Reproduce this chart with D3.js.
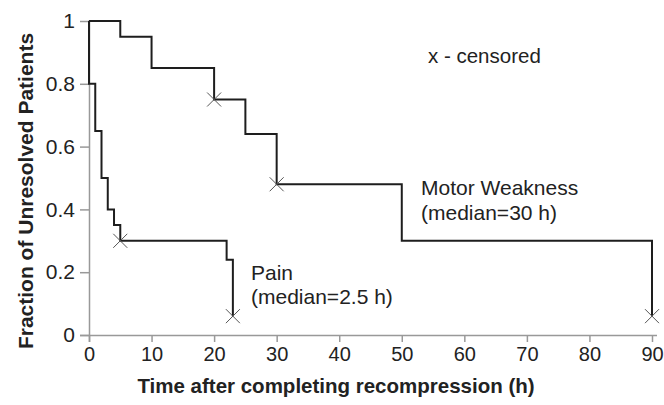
<!DOCTYPE html>
<html lang="en">
<head>
<meta charset="utf-8">
<style>
  body { margin: 0; background: #fff; }
  text { font-family: "Liberation Sans", Arial, sans-serif; fill: #222; }
</style>
</head>
<body>
<div id="viz"></div>
<script src="https://cdnjs.cloudflare.com/ajax/libs/d3/7.8.5/d3.min.js"></script>
<script>

// step curves: [time (h), fraction]
var painSteps = [[0,1],[0,0.8],[1,0.65],[2,0.5],[3,0.4],[4,0.35],[5,0.3],[22,0.24],[23,0.06]];
var painEnd = 23;
var painCensored = [[5,0.3],[23,0.06]];

var motorSteps = [[0,1],[5,0.95],[10,0.85],[20,0.75],[25,0.64],[30,0.48],[50,0.3],[90,0.06]];
var motorEnd = 90;
var motorCensored = [[20,0.75],[30,0.48],[90,0.06]];

var xTicks = [0,10,20,30,40,50,60,70,80,90];
var yTicks = [0,0.2,0.4,0.6,0.8,1];
var yTickLabels = ["0","0.2","0.4","0.6","0.8","1"];

var w = 664, h = 405;
var x = d3.scaleLinear().domain([0,90]).range([89,652]);
var y = d3.scaleLinear().domain([0,1]).range([335,21]);

var svg = d3.select("#viz").append("svg")
    .attr("width", w)
    .attr("height", h);

// axes
var xAxis = svg.append("g")
    .attr("transform", "translate(0,335)")
    .call(d3.axisBottom(x).tickValues(xTicks).tickSize(7).tickPadding(5).tickFormat(d3.format("d")));
xAxis.select(".domain").attr("d", "M80,0.5H657");

var yAxis = svg.append("g")
    .attr("transform", "translate(89,0)")
    .call(d3.axisLeft(y).tickValues(yTicks).tickSize(9).tickPadding(5)
      .tickFormat((d,i)=>{ return yTickLabels[i]; }));
yAxis.select(".domain").attr("d", "M0.5,20V342");

svg.selectAll(".domain, .tick line")
    .attr("stroke", "#999")
    .attr("stroke-width", 1.5);
xAxis.selectAll(".tick text").attr("font-size", 20);
yAxis.selectAll(".tick text").attr("font-size", 21);
svg.selectAll(".tick text")
    .attr("fill", "#222")
    .style("font-family", "'Liberation Sans', Arial, sans-serif");

// step paths
function stepPath(steps, end){
  var pts = steps.slice();
  pts.push([end, steps[steps.length-1][1]]);
  return d3.line()
    .x((d)=>{ return x(d[0]); })
    .y((d)=>{ return y(d[1]); })
    .curve(d3.curveStepAfter)(pts);
}

svg.append("path")
    .attr("d", stepPath(motorSteps, motorEnd))
    .attr("fill", "none")
    .attr("stroke", "#1e1e1e")
    .attr("stroke-width", 2);

svg.append("path")
    .attr("d", stepPath(painSteps, painEnd))
    .attr("fill", "none")
    .attr("stroke", "#1e1e1e")
    .attr("stroke-width", 2);

// censor marks
var cs = 7;
svg.selectAll(".cens")
    .data(painCensored.concat(motorCensored))
    .enter().append("path")
    .attr("class", "cens")
    .attr("d", (d)=>{
      var cx = x(d[0]), cy = y(d[1]);
      return "M" + (cx-cs) + "," + (cy-cs) + "L" + (cx+cs) + "," + (cy+cs) +
             "M" + (cx-cs) + "," + (cy+cs) + "L" + (cx+cs) + "," + (cy-cs);
    })
    .attr("fill", "none")
    .attr("stroke", "#555")
    .attr("stroke-width", 1);

// annotations
svg.append("text").attr("x", 428).attr("y", 63).attr("font-size", 20.5).text("x - censored");
svg.append("text").attr("x", 421).attr("y", 195).attr("font-size", 21).text("Motor Weakness");
svg.append("text").attr("x", 421).attr("y", 220).attr("font-size", 21).text("(median=30 h)");
svg.append("text").attr("x", 251).attr("y", 280).attr("font-size", 21).text("Pain");
svg.append("text").attr("x", 251).attr("y", 304).attr("font-size", 21).text("(median=2.5 h)");

// axis titles
svg.append("text")
    .attr("x", 336).attr("y", 393)
    .attr("text-anchor", "middle")
    .attr("font-size", 20.5)
    .attr("font-weight", "bold")
    .text("Time after completing recompression (h)");

svg.append("text")
    .attr("transform", "translate(33,191) rotate(-90)")
    .attr("text-anchor", "middle")
    .attr("font-size", 21)
    .attr("font-weight", "bold")
    .text("Fraction of Unresolved Patients");

</script>
</body>
</html>
